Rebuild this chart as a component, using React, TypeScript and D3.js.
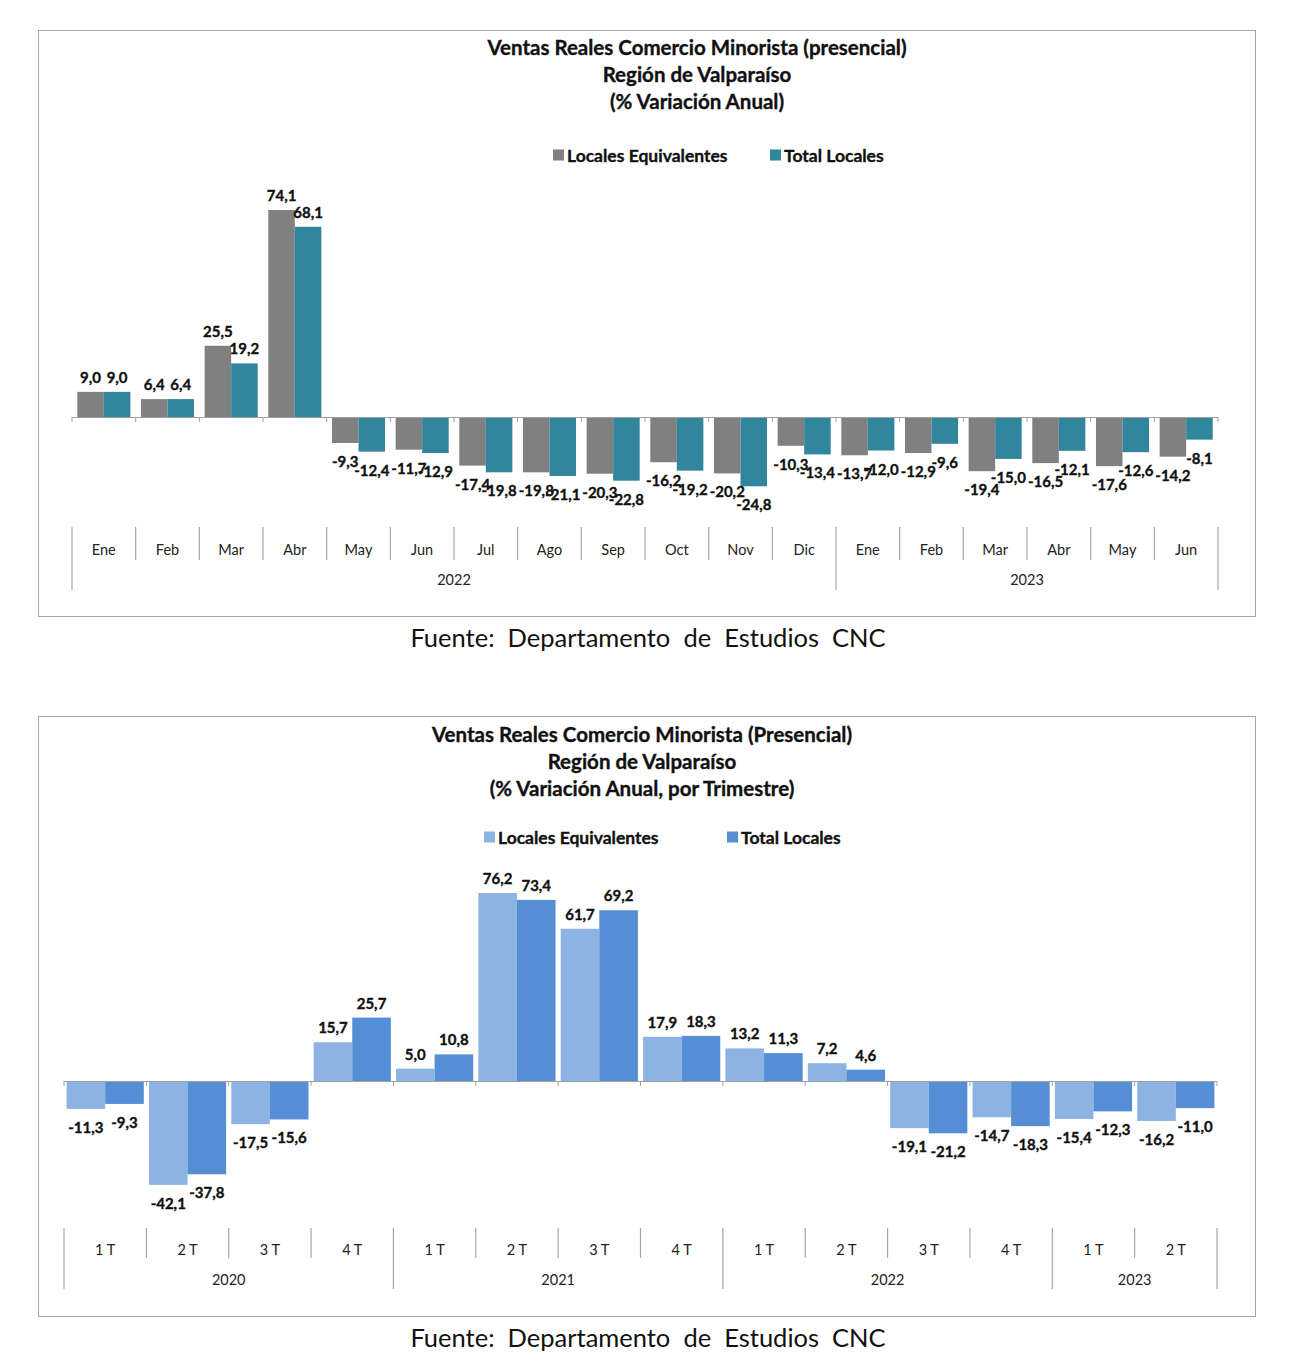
import React from "react";
import * as d3 from "d3";

// ---- Chart 1 data (monthly) ----
const monthCats = ["Ene","Feb","Mar","Abr","May","Jun","Jul","Ago","Sep","Oct","Nov","Dic","Ene","Feb","Mar","Abr","May","Jun"];
const monthYears = [{ label: "2022", start: 0, end: 12 }, { label: "2023", start: 12, end: 18 }];
const monthEquiv = [9.0, 6.4, 25.5, 74.1, -9.3, -11.7, -17.4, -19.8, -20.3, -16.2, -20.2, -10.3, -13.7, -12.9, -19.4, -16.5, -17.6, -14.2];
const monthTotal = [9.0, 6.4, 19.2, 68.1, -12.4, -12.9, -19.8, -21.1, -22.8, -19.2, -24.8, -13.4, -12.0, -9.6, -15.0, -12.1, -12.6, -8.1];
const monthTitle = ["Ventas Reales Comercio Minorista (presencial)", "Región de Valparaíso", "(% Variación Anual)"];

// ---- Chart 2 data (quarterly) ----
const quarterCats = ["1 T","2 T","3 T","4 T","1 T","2 T","3 T","4 T","1 T","2 T","3 T","4 T","1 T","2 T"];
const quarterYears = [{ label: "2020", start: 0, end: 4 }, { label: "2021", start: 4, end: 8 }, { label: "2022", start: 8, end: 12 }, { label: "2023", start: 12, end: 14 }];
const quarterEquiv = [-11.3, -42.1, -17.5, 15.7, 5.0, 76.2, 61.7, 17.9, 13.2, 7.2, -19.1, -14.7, -15.4, -16.2];
const quarterTotal = [-9.3, -37.8, -15.6, 25.7, 10.8, 73.4, 69.2, 18.3, 11.3, 4.6, -21.2, -18.3, -12.3, -11.0];
const quarterTitle = ["Ventas Reales Comercio Minorista (Presencial)", "Región de Valparaíso", "(% Variación Anual, por Trimestre)"];

const seriesNames = ["Locales Equivalentes", "Total Locales"];
const source = "Fuente:  Departamento  de  Estudios  CNC";

const FONT = "Lato, 'Open Sans', sans-serif";
const fmt = (v: number) => v.toFixed(1).replace(".", ",");

type Year = { label: string; start: number; end: number };
type ChartProps = {
  top: number; frameH: number; title: string[]; titleY: number[]; titleX: number;
  legendY: number; legendX: number[];
  cats: string[]; years: Year[]; a: number[]; b: number[]; colors: string[];
  x0: number; x1: number; zeroY: number; maxV: number; maxY: number;
  padOuter: number;
  catY: number; yearY: number; sepTop: number; sepBot: number; yearSepBot: number;
};

const boldStroke = { stroke: "#111", strokeWidth: 0.35 };

function Chart(p: ChartProps) {
  const band = d3.scaleBand<number>().domain(d3.range(p.cats.length)).range([p.x0, p.x1]).paddingInner(0).paddingOuter(0);
  const sub = d3.scaleBand<number>().domain([0, 1]).range([0, band.bandwidth()]).paddingInner(0).paddingOuter(p.padOuter);
  const y = d3.scaleLinear().domain([0, p.maxV]).range([p.zeroY, p.maxY]);
  const series = [p.a, p.b];
  const boundaries = d3.range(p.cats.length + 1).map((i) => (i === p.cats.length ? p.x1 : band(i)!));
  const yearBounds = new Set<number>();
  p.years.forEach((yr) => { yearBounds.add(yr.start); yearBounds.add(yr.end); });
  return (
    <g>
      <rect x={38.5} y={p.top + 0.5} width={1217} height={p.frameH} fill="#fff" stroke="#a6a6a6" strokeWidth={1} />
      {p.title.map((t, i) => (
        <text key={i} x={p.titleX} y={p.titleY[i]} textAnchor="middle" dominantBaseline="central" fontFamily={FONT} fontWeight={700} fontSize={20.5} fill="#111" {...boldStroke}>{t}</text>
      ))}
      {seriesNames.map((n, i) => (
        <g key={n}>
          <rect x={p.legendX[i]} y={p.legendY - 5.5} width={11} height={11} fill={p.colors[i]} />
          <text x={p.legendX[i] + 14} y={p.legendY} dominantBaseline="central" fontFamily={FONT} fontWeight={700} fontSize={17.5} fill="#111" {...boldStroke}>{n}</text>
        </g>
      ))}
      {series.map((vals, s) => vals.map((v, i) => {
        const bx = band(i)! + sub(s)!;
        const w = sub.bandwidth();
        const yT = v >= 0 ? y(v) : y(0);
        const h = Math.abs(y(v) - y(0));
        return <rect key={`${s}-${i}`} x={bx} y={yT} width={w} height={h} fill={p.colors[s]} />;
      }))}
      <line x1={p.x0} x2={p.x1} y1={p.zeroY + 0.5} y2={p.zeroY + 0.5} stroke="#a0a0a0" strokeWidth={1.2} />
      {boundaries.map((bx, i) => (
        <line key={`t${i}`} x1={bx} x2={bx} y1={p.zeroY} y2={p.zeroY + 5} stroke="#a0a0a0" strokeWidth={1} />
      ))}
      {series.map((vals, s) => vals.map((v, i) => {
        const cx = band(i)! + sub(s)! + sub.bandwidth() / 2;
        const ly = v >= 0 ? y(v) - 15 : y(v) + 18;
        return <text key={`l${s}-${i}`} x={cx} y={ly} textAnchor="middle" dominantBaseline="central" fontFamily={FONT} fontWeight={700} fontSize={15} fill="#111" {...boldStroke}>{fmt(v)}</text>;
      }))}
      {boundaries.map((bx, i) => (
        <line key={`s${i}`} x1={bx} x2={bx} y1={p.sepTop} y2={yearBounds.has(i) ? p.yearSepBot : p.sepBot} stroke="#a6a6a6" strokeWidth={1.2} />
      ))}
      {p.cats.map((c, i) => (
        <text key={`c${i}`} x={band(i)! + band.bandwidth() / 2} y={p.catY} textAnchor="middle" dominantBaseline="central" fontFamily={FONT} fontSize={14.5} fill="#222">{c}</text>
      ))}
      {p.years.map((yr) => (
        <text key={yr.label + yr.start} x={(boundaries[yr.start] + boundaries[yr.end]) / 2} y={p.yearY} textAnchor="middle" dominantBaseline="central" fontFamily={FONT} fontSize={14.5} fill="#222">{yr.label}</text>
      ))}
      <text x={648} y={p.top + p.frameH + 21} textAnchor="middle" dominantBaseline="central" fontFamily={FONT} fontSize={25.5} fill="#111" style={{ whiteSpace: "pre" }}>{source}</text>
    </g>
  );
}

export default function App() {
  return (
    <svg width={1300} height={1364} style={{ position: "absolute", left: 0, top: 0, background: "#fff" }}>
      <rect width={1300} height={1364} fill="#fff" />
      <Chart
        top={30} frameH={586} title={monthTitle} titleY={[47, 74, 101]} titleX={697}
        legendY={155} legendX={[553, 770]}
        cats={monthCats} years={monthYears} a={monthEquiv} b={monthTotal} colors={["#808080", "#31859C"]}
        x0={72} x1={1218} zeroY={417} maxV={74.1} maxY={210}
        padOuter={0.2}
        catY={549} yearY={579} sepTop={527} sepBot={560} yearSepBot={590}
      />
      <Chart
        top={716} frameH={600} title={quarterTitle} titleY={[734, 761, 788]} titleX={642}
        legendY={837} legendX={[484, 727]}
        cats={quarterCats} years={quarterYears} a={quarterEquiv} b={quarterTotal} colors={["#8DB3E2", "#558ED5"]}
        x0={64} x1={1217} zeroY={1081} maxV={76.2} maxY={893}
        padOuter={0.067}
        catY={1249} yearY={1279} sepTop={1228} sepBot={1258} yearSepBot={1289}
      />
    </svg>
  );
}
